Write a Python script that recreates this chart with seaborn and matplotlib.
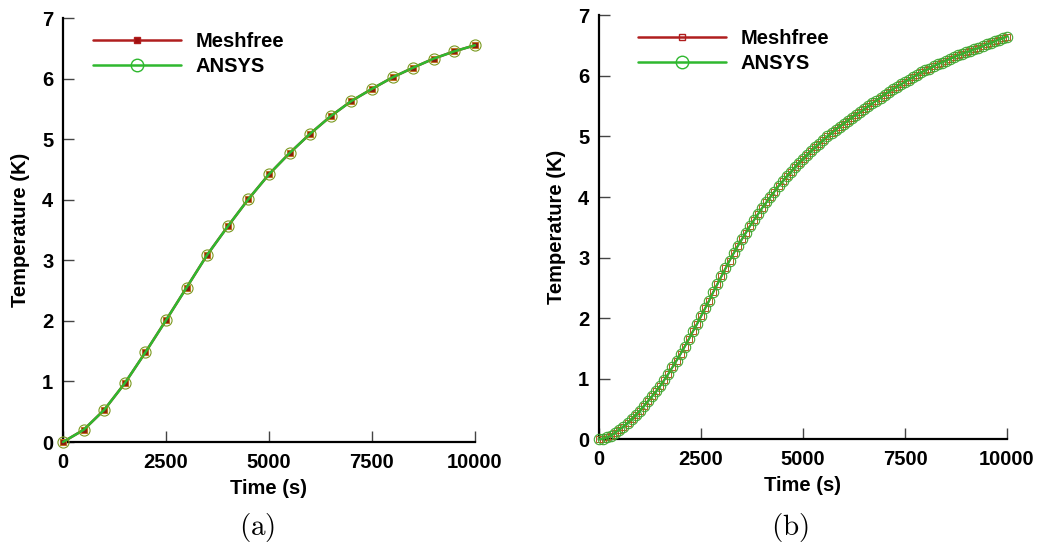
import numpy as np
import pandas as pd
import matplotlib
matplotlib.use("Agg")
import matplotlib.pyplot as plt
import seaborn as sns
from matplotlib.lines import Line2D

# ---------------- data ----------------
time_a = [0, 500, 1000, 1500, 2000, 2500, 3000, 3500, 4000, 4500, 5000,
          5500, 6000, 6500, 7000, 7500, 8000, 8500, 9000, 9500, 10000]
meshfree_a = [0.00, 0.20, 0.53, 0.97, 1.48, 2.01, 2.55, 3.09, 3.56, 4.01, 4.42,
              4.77, 5.09, 5.38, 5.63, 5.83, 6.02, 6.18, 6.33, 6.45, 6.55]
ansys_a = [0.00, 0.20, 0.53, 0.97, 1.48, 2.01, 2.55, 3.09, 3.56, 4.01, 4.42,
           4.77, 5.09, 5.38, 5.63, 5.83, 6.02, 6.18, 6.33, 6.45, 6.55]

time_b = list(range(0, 10001, 100))
meshfree_b = [0.00, 0.01, 0.03, 0.06, 0.11, 0.16, 0.21, 0.27, 0.33, 0.40,
              0.47, 0.55, 0.63, 0.71, 0.79, 0.88, 0.98, 1.08, 1.19, 1.30,
              1.41, 1.53, 1.65, 1.78, 1.90, 2.03, 2.16, 2.29, 2.43, 2.56,
              2.69, 2.82, 2.95, 3.07, 3.19, 3.30, 3.41, 3.52, 3.62, 3.72,
              3.82, 3.91, 4.00, 4.09, 4.18, 4.26, 4.34, 4.41, 4.49, 4.56,
              4.63, 4.69, 4.76, 4.82, 4.88, 4.94, 5.00, 5.05, 5.11, 5.16,
              5.21, 5.26, 5.31, 5.36, 5.40, 5.45, 5.50, 5.55, 5.59, 5.64,
              5.69, 5.73, 5.78, 5.82, 5.86, 5.90, 5.94, 5.98, 6.02, 6.06,
              6.09, 6.12, 6.16, 6.19, 6.22, 6.25, 6.28, 6.31, 6.34, 6.36,
              6.39, 6.41, 6.44, 6.46, 6.49, 6.52, 6.54, 6.57, 6.60, 6.62,
              6.65]
ansys_b = list(meshfree_b)

x_ticks = [0, 2500, 5000, 7500, 10000]
y_ticks = [0, 1, 2, 3, 4, 5, 6, 7]
series_names = ["Meshfree", "ANSYS"]
x_label = "Time (s)"
y_label = "Temperature (K)"
captions = ["(a)", "(b)"]

# ---------------- style ----------------
sns.set_style("ticks")
plt.rcParams["font.family"] = ["Liberation Sans", "DejaVu Sans"]
plt.rcParams["font.weight"] = "bold"
plt.rcParams["mathtext.fontset"] = "cm"
plt.rcParams["text.color"] = "black"
plt.rcParams["axes.labelcolor"] = "black"
plt.rcParams["xtick.labelcolor"] = "black"
plt.rcParams["ytick.labelcolor"] = "black"

RED = "#b01e1e"
GREEN = "#2fb82f"
FS = 14.5

fig = plt.figure(figsize=(10.41, 5.5), dpi=100)
ax_a = fig.add_axes([63 / 1041, 1 - 442 / 550, (475 - 63) / 1041, (442 - 18) / 550])
ax_b = fig.add_axes([599 / 1041, 1 - 439.3 / 550, (1007 - 599) / 1041, (439.3 - 15.3) / 550])

def style_axes(ax):
    ax.set_xlim(0, 10000)
    ax.set_ylim(0, 7)
    ax.set_xticks(x_ticks)
    ax.set_yticks(y_ticks)
    ax.set_xticklabels([str(t) for t in x_ticks], fontsize=FS, fontweight="bold", color="black")
    ax.set_yticklabels([str(t) for t in y_ticks], fontsize=FS, fontweight="bold", color="black")
    for s in ["top", "right"]:
        ax.spines[s].set_visible(False)
    for s in ["left", "bottom"]:
        ax.spines[s].set_linewidth(1.6)
        ax.spines[s].set_color("black")
    ax.tick_params(axis="both", direction="in", length=8, width=1.0,
                   color="#444444")
    ax.tick_params(axis="y", pad=7)
    ax.tick_params(axis="x", pad=8)
    ax.set_xlabel(x_label, fontsize=FS, fontweight="bold", labelpad=5, color="black")
    ax.set_ylabel(y_label, fontsize=FS, fontweight="bold", labelpad=9, color="black")
    ax.set_facecolor("white")

# Panel (a)
df_a = pd.DataFrame({"t": time_a, "m": meshfree_a, "a": ansys_a})
sns.lineplot(data=df_a, x="t", y="m", ax=ax_a, color=RED, linewidth=1.8,
             marker="s", markersize=4, markerfacecolor="#8a1a10",
             markeredgecolor="#c07020", markeredgewidth=0.8, clip_on=False,
             zorder=3)
sns.lineplot(data=df_a, x="t", y="a", ax=ax_a, color=GREEN, linewidth=1.8,
             marker="o", markersize=8, markerfacecolor="none",
             markeredgecolor="#7a9a20", markeredgewidth=0.8, clip_on=False,
             zorder=4)
style_axes(ax_a)

# Panel (b)
df_b = pd.DataFrame({"t": time_b, "m": meshfree_b, "a": ansys_b})
sns.lineplot(data=df_b, x="t", y="m", ax=ax_b, color=RED, linewidth=1.5,
             marker="s", markersize=4.5, markerfacecolor="none",
             markeredgecolor="#b05a20", markeredgewidth=0.7, clip_on=False,
             zorder=3)
sns.lineplot(data=df_b, x="t", y="a", ax=ax_b, color=GREEN, linewidth=1.5,
             marker="o", markersize=7.5, markerfacecolor="none",
             markeredgecolor="#40a830", markeredgewidth=0.8, clip_on=False,
             zorder=4)
style_axes(ax_b)

# legends
def add_legend(ax, sq_face, bbox):
    handles = [
        Line2D([], [], color=RED, linewidth=1.8, marker="s", markersize=5,
               markerfacecolor=sq_face, markeredgecolor=RED),
        Line2D([], [], color=GREEN, linewidth=1.8, marker="o", markersize=9,
               markerfacecolor="none", markeredgecolor=GREEN),
    ]
    leg = ax.legend(handles, series_names, loc="upper left", bbox_to_anchor=bbox,
                    frameon=False, handlelength=4.35, handletextpad=0.75,
                    labelspacing=0.3, prop={"weight": "bold", "size": FS},
                    borderaxespad=0, borderpad=0, labelcolor="black")
    return leg

add_legend(ax_a, "#a01010", (0.073, 0.967))
add_legend(ax_b, "none", (0.096, 0.967))

# captions
fig.text(257 / 1041, 1 - 528 / 550, r"$\mathrm{(a)}$", ha="center", va="center", fontsize=21)
fig.text(790 / 1041, 1 - 528 / 550, r"$\mathrm{(b)}$", ha="center", va="center", fontsize=21)

fig.savefig("out.png", dpi=100, facecolor="white")
